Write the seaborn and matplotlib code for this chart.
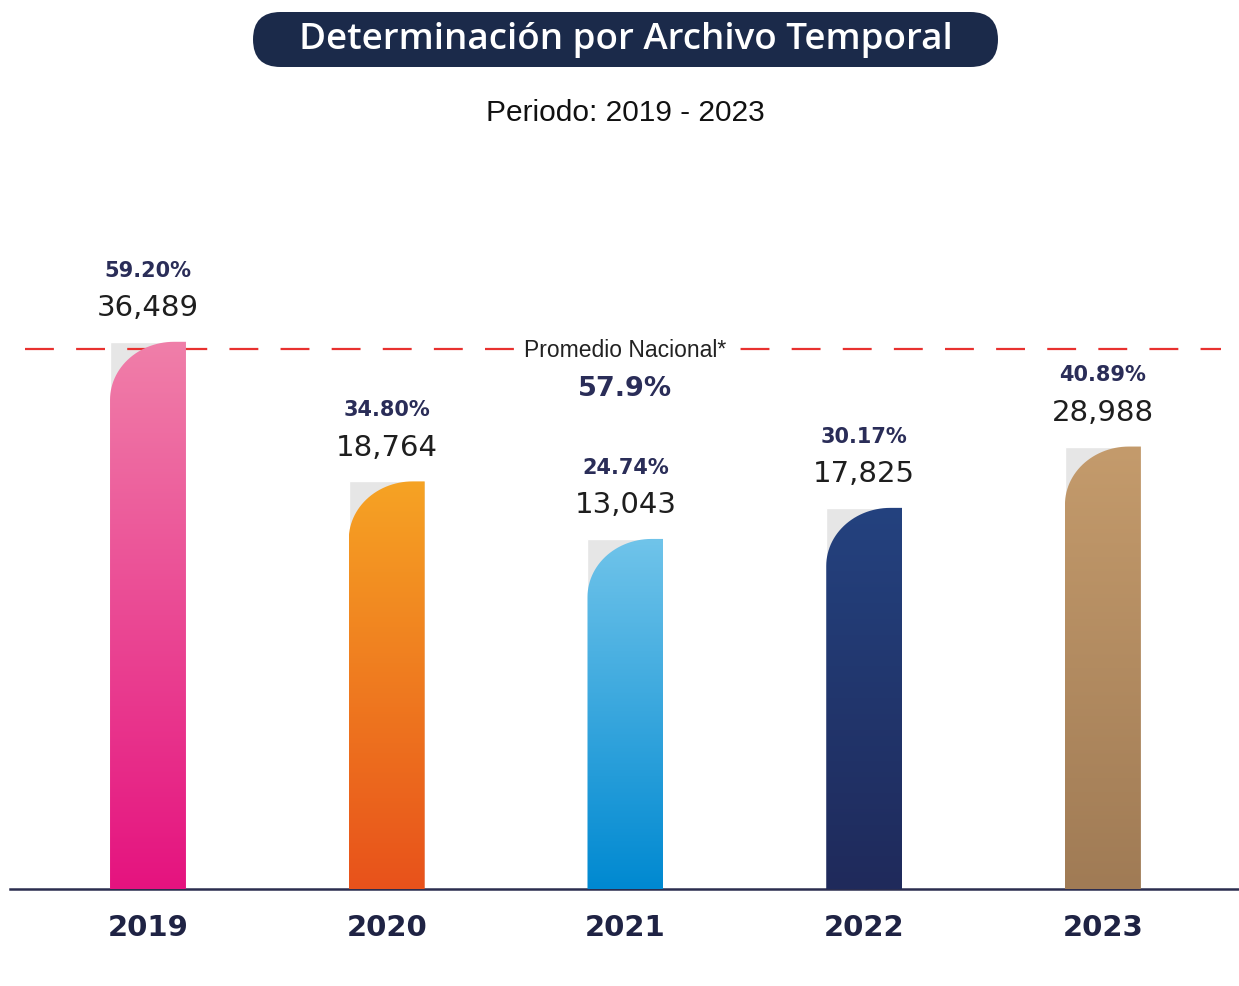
import matplotlib
matplotlib.use("Agg")
import matplotlib.pyplot as plt
import seaborn as sns
import pandas as pd
import numpy as np
from matplotlib.path import Path
from matplotlib.patches import PathPatch, FancyBboxPatch
from matplotlib.colors import LinearSegmentedColormap

# datos
anios = ["2019", "2020", "2021", "2022", "2023"]
porcentajes = [59.20, 34.80, 24.74, 30.17, 40.89]
casos = [36489, 18764, 13043, 17825, 28988]
promedio_nacional = 57.9
color_arriba = ["#f07fa9", "#f6a324", "#70c4ea", "#24427f", "#c49b6c"]
color_abajo = ["#e5137f", "#e8521b", "#0089d1", "#1f2a5b", "#a07b55"]

PISO = -36.45  # the bars in the original start well below 0%

df = pd.DataFrame({"anio": anios, "pct": porcentajes, "casos": casos})
df["alto"] = df["pct"] - PISO

sns.set_theme(style="white")
plt.rcParams["font.family"] = ["DejaVu Sans"]

fig = plt.figure(figsize=(12.39, 9.87), dpi=100)
ax = fig.add_axes([10 / 1239, 97 / 987, 1229 / 1239, 740 / 987])

# grey full bars underneath (visible only at the cut corner)
sns.barplot(data=df, x="anio", y="alto", bottom=PISO, color="#e6e6e6",
            width=0.318, saturation=1, ax=ax)

xlim = (-0.578, 4.570)
ylim = (PISO, 92.9)
ax.set_xlim(xlim)
ax.set_ylim(ylim)

# pixel -> data for the rounded corner
px_x = 1229 / (xlim[1] - xlim[0])
px_y = 740 / (ylim[1] - ylim[0])
rx = 64 / px_x
ry = 58 / px_y

for i, p in enumerate(list(ax.patches)):
    x0 = p.get_x()
    x1 = x0 + p.get_width()
    y0 = p.get_y()
    y1 = y0 + p.get_height()
    th = np.linspace(np.pi / 2, np.pi, 30)
    arc = np.column_stack([x0 + rx + rx * np.cos(th), y1 - ry + ry * np.sin(th)])
    verts = np.vstack([[x0, y0], [x1, y0], [x1, y1], arc, [x0, y0]])
    forma = PathPatch(Path(verts), facecolor="none", edgecolor="none")
    ax.add_patch(forma)
    cmap = LinearSegmentedColormap.from_list("g%d" % i, [color_abajo[i], color_arriba[i]])
    grad = np.linspace(0, 1, 256).reshape(-1, 1)
    im = ax.imshow(grad, cmap=cmap, extent=[x0, x1, y0, y1], origin="lower",
                   aspect="auto", zorder=3)
    im.set_clip_path(forma)

    xc = x0 + p.get_width() / 2
    ax.annotate(f"{porcentajes[i]:.2f}%", (xc, y1), xytext=(0, 52),
                textcoords="offset points", ha="center", va="center",
                fontsize=15, fontweight="bold", color="#2a2d58")
    ax.annotate(f"{casos[i]:,}", (xc, y1), xytext=(0, 25),
                textcoords="offset points", ha="center", va="center",
                fontsize=21, color="#1e1e1e")

ax.set_xlim(xlim)
ax.set_ylim(ylim)

# promedio nacional
ax.axhline(promedio_nacional, xmin=0.012, xmax=0.985, color="#e8312f",
           lw=1.6, dashes=(13, 10), zorder=2)
ax.annotate("Promedio Nacional*", (2, promedio_nacional), xytext=(0, 0),
            textcoords="offset points", ha="center", va="center",
            fontsize=16.5, family=["Liberation Sans"], color="#222222",
            bbox=dict(facecolor="white", edgecolor="none", pad=7), zorder=4)
ax.annotate(f"{promedio_nacional}%", (2, promedio_nacional), xytext=(0, -28),
            textcoords="offset points", ha="center", va="center",
            fontsize=19.5, fontweight="bold", color="#2a2d58")

# axes styling
sns.despine(ax=ax, left=True, top=True, right=True)
ax.spines["bottom"].set_color("#2b2d4f")
ax.spines["bottom"].set_linewidth(1.8)
ax.set_yticks([])
ax.set_xlabel("")
ax.set_ylabel("")
ax.tick_params(axis="x", length=0, pad=17)
for t in ax.get_xticklabels():
    t.set_fontsize(21)
    t.set_fontweight("bold")
    t.set_color("#1f2344")

# title pill
ax_t = fig.add_axes([253 / 1239, 1 - 68 / 987, 745 / 1239, 55 / 987])
ax_t.set_xlim(0, 745)
ax_t.set_ylim(0, 55)
ax_t.axis("off")
ax_t.add_patch(FancyBboxPatch((0, 0), 745, 55, boxstyle="round,pad=0,rounding_size=27.5",
                              facecolor="#1b2a4a", edgecolor="none"))
ax_t.text(372.5, 28, "Determinación por Archivo Temporal", ha="center", va="center",
          fontsize=26.5, color="white", family=["Open Sans"], fontweight="semibold")

fig.text(625 / 1239, 1 - 113 / 987, "Periodo: 2019 - 2023", ha="center", va="center",
         fontsize=21.5, color="#111111", family=["Liberation Sans"])

fig.savefig("out.png", dpi=100, facecolor="white")
